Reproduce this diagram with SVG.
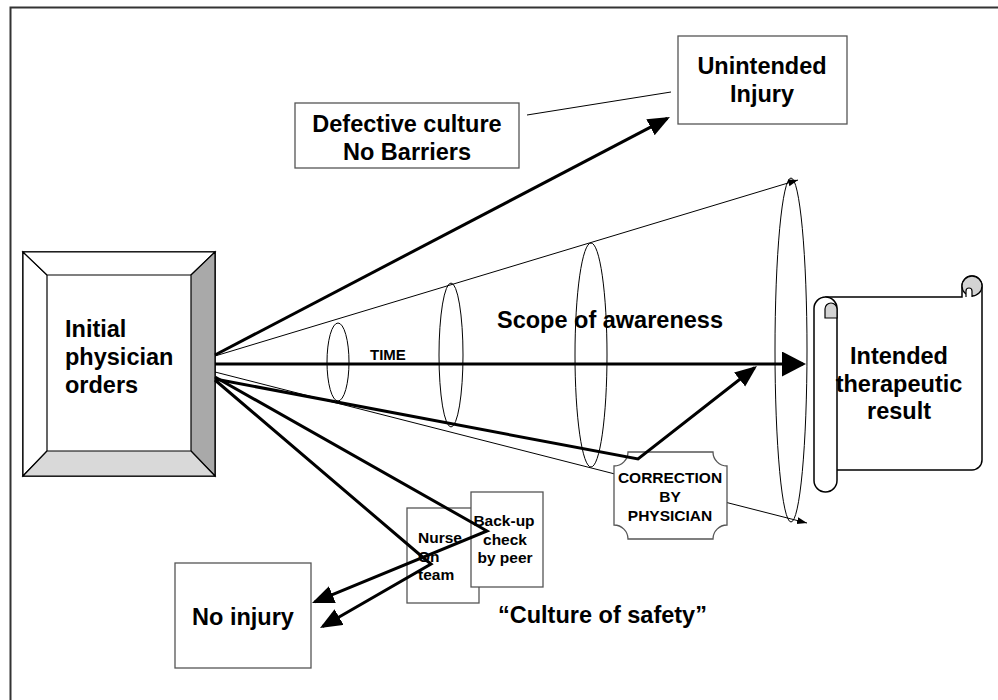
<svg xmlns="http://www.w3.org/2000/svg" width="998" height="700" viewBox="0 0 998 700">
<defs>
<style>
text{font-family:"Liberation Sans",Arial,sans-serif;font-weight:bold;fill:#000}
.big{font-size:23.5px}
.sm{font-size:15.5px}
.box{fill:#fff;stroke:#555;stroke-width:1.3}
.thick{fill:none;stroke:#000;stroke-width:3}
.thin{fill:none;stroke:#000;stroke-width:1}
.ell{fill:none;stroke:#000;stroke-width:1}
</style>
<marker id="ah" markerUnits="userSpaceOnUse" markerWidth="24" markerHeight="20" refX="19" refY="9" orient="auto"><path d="M0,0 L22,9 L0,18 Z" fill="#000"/></marker>
<marker id="ahb" markerUnits="userSpaceOnUse" markerWidth="26" markerHeight="27" refX="21" refY="12.5" orient="auto"><path d="M0,0 L24,12.5 L0,25 Z" fill="#000"/></marker>
<marker id="ahs" markerUnits="userSpaceOnUse" markerWidth="12" markerHeight="8" refX="10" refY="3.5" orient="auto"><path d="M0,0 L10,3.5 L0,7 Z" fill="#000"/></marker>
</defs>
<rect x="10.5" y="7.5" width="1000" height="720" fill="#fff" stroke="#333" stroke-width="2"/>

<g id="cone">
<line class="thin" x1="215" y1="356" x2="798" y2="180" marker-end="url(#ahs)"/>
<line class="thin" x1="215" y1="372" x2="807" y2="523" marker-end="url(#ahs)"/>
<ellipse class="ell" cx="338" cy="362" rx="11" ry="39"/>
<ellipse class="ell" cx="451" cy="355" rx="12" ry="72"/>
<ellipse class="ell" cx="591" cy="355" rx="16" ry="112"/>
<ellipse class="ell" cx="791" cy="350" rx="16" ry="172"/>
<text x="497" y="328" class="big">Scope of awareness</text>
<text x="370" y="360" style="font-size:15px">TIME</text>
</g>

<g id="initial-orders">
<rect x="23" y="252" width="192" height="224" fill="#fff" stroke="#000" stroke-width="1.5"/>
<polygon points="23,252 47,275 47,451 23,476" fill="#fff" stroke="#000" stroke-width="1.2"/>
<polygon points="23,252 215,252 191,275 47,275" fill="#fff" stroke="#000" stroke-width="1.2"/>
<polygon points="215,252 215,476 191,451 191,275" fill="#a9a9a9" stroke="#000" stroke-width="1.2"/>
<polygon points="23,476 47,451 191,451 215,476" fill="#d9d9d9" stroke="#000" stroke-width="1.2"/>
<text x="65" y="337" class="big">Initial</text>
<text x="65" y="365" class="big">physician</text>
<text x="65" y="393" class="big">orders</text>
</g>

<g id="unintended-injury">
<rect class="box" x="678" y="36" width="169" height="88"/>
<text x="762" y="74" class="big" text-anchor="middle">Unintended</text>
<text x="762" y="102" class="big" text-anchor="middle">Injury</text>
</g>

<g id="defective-culture">
<rect class="box" x="295" y="103" width="224" height="65"/>
<text x="407" y="132" class="big" text-anchor="middle">Defective culture</text>
<text x="407" y="160" class="big" text-anchor="middle">No Barriers</text>
</g>

<g id="intended-result">
<path d="M826 297 L962 297 L962 286 A10 10 0 0 1 982 286 L982 460 A10 10 0 0 1 972 470 L826 470 Z" fill="#fff" stroke="#000" stroke-width="1.5"/>
<circle cx="972" cy="286" r="10" fill="#d3d3d3" stroke="#000" stroke-width="1.3"/>
<path d="M966 297 L966 291 A3 3 0 0 1 972 291 L972 297" fill="#fff" stroke="#000" stroke-width="1.2"/>
<rect x="814" y="297" width="23" height="195" rx="11.5" fill="#fff" stroke="#000" stroke-width="1.5"/>
<path d="M825 318 L825 309 A6 6 0 0 1 837 309 L837 318 Z" fill="#d3d3d3" stroke="#000" stroke-width="1.2"/>
<text x="899" y="364" class="big" text-anchor="middle">Intended</text>
<text x="899" y="392" class="big" text-anchor="middle">therapeutic</text>
<text x="899" y="419" class="big" text-anchor="middle">result</text>
</g>

<g id="correction">
<path class="box" d="M628 452 L713 452 A14 14 0 0 0 727 466 L727 525 A14 14 0 0 0 713 539 L628 539 A14 14 0 0 0 614 525 L614 466 A14 14 0 0 0 628 452 Z"/>
<text x="670" y="483" class="sm" text-anchor="middle">CORRECTION</text>
<text x="670" y="502" class="sm" text-anchor="middle">BY</text>
<text x="670" y="521" class="sm" text-anchor="middle">PHYSICIAN</text>
</g>

<g id="nurse">
<rect class="box" x="407" y="508" width="72" height="95"/>
<text x="418" y="543" class="sm">Nurse</text>
<text x="418" y="562" class="sm">On</text>
<text x="418" y="580" class="sm">team</text>
</g>

<g id="backup">
<rect class="box" x="471" y="492" width="72" height="95"/>
<text x="504" y="526" class="sm" text-anchor="middle">Back-up</text>
<text x="505" y="545" class="sm" text-anchor="middle">check</text>
<text x="505" y="563" class="sm" text-anchor="middle">by peer</text>
</g>

<g id="no-injury">
<rect class="box" x="175" y="563" width="136" height="105"/>
<text x="243" y="625" class="big" text-anchor="middle">No injury</text>
</g>

<text x="498" y="623" class="big">“Culture of safety”</text>

<g id="connectors">
<line class="thin" x1="527" y1="115" x2="671" y2="92"/>
<line class="thick" x1="215" y1="355" x2="667.3" y2="118.4" marker-end="url(#ah)"/>
<line class="thick" x1="215" y1="364" x2="803" y2="364" marker-end="url(#ahb)"/>
<polyline class="thick" points="215,379 638,459 754.6,367.8" marker-end="url(#ah)"/>
<polyline class="thick" points="215,377 487,531 314.8,601.9" marker-end="url(#ah)"/>
<polyline class="thick" points="215,380 426,560 431,564 322.6,626.5" marker-end="url(#ah)"/>
</g>
</svg>
